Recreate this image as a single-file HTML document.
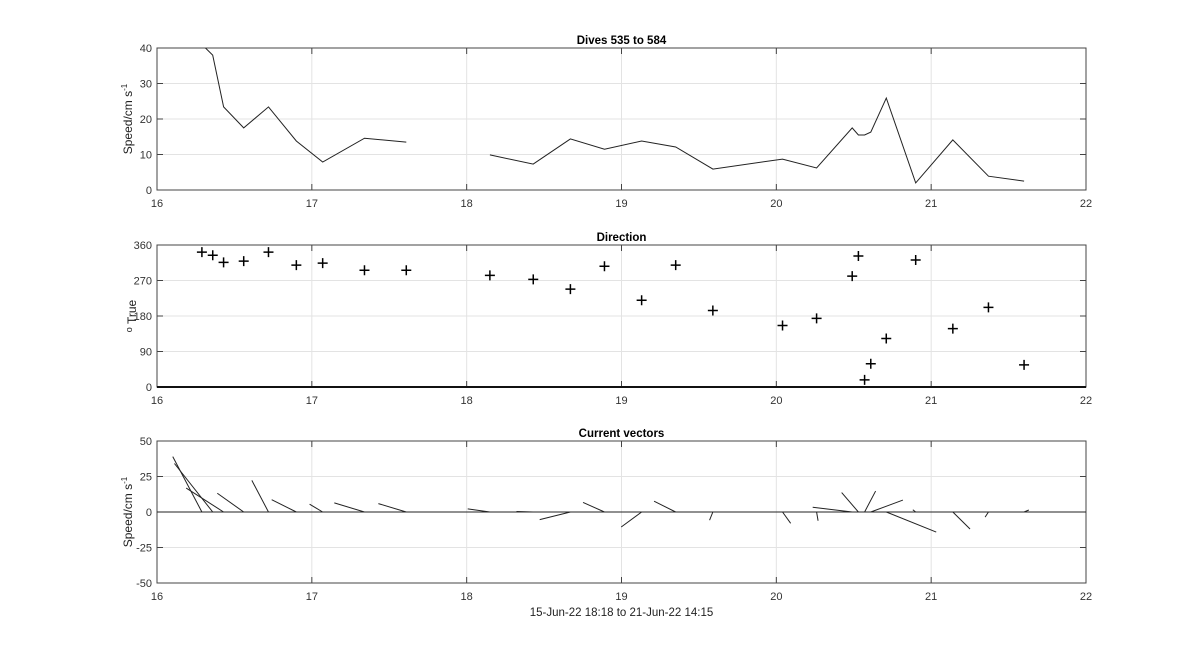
<!DOCTYPE html>
<html><head><meta charset="utf-8"><style>
body{margin:0;background:#fff;width:1200px;height:656px;overflow:hidden}
svg{font-family:"Liberation Sans",Arial,sans-serif}
</style></head><body>
<svg id="c" width="1200" height="656"></svg>
<script>
const times=[16.29,16.36,16.43,16.56,16.72,16.90,17.07,17.34,17.61,18.15,18.43,18.67,18.89,19.13,19.35,19.59,20.04,20.26,20.49,20.53,20.57,20.61,20.71,20.90,21.14,21.37,21.60];
const speeds=[41,38,23.4,17.5,23.4,13.8,7.9,14.6,13.5,9.9,7.3,14.4,11.5,13.8,12.1,5.9,8.7,6.2,17.5,15.5,15.5,16.3,25.9,2.0,14.1,3.9,2.5];
const dirs=[342,334,316,319,342,309,314,296,296,283,273,248,306,220,309,194,156,174,281,332,18,59,123,322,148,202,56];
const gapAfter=8;
const xTicks=[16,17,18,19,20,21,22];
const p1Ticks=[0,10,20,30,40], p2Ticks=[0,90,180,270,360], p3Ticks=[-50,-25,0,25,50];
const NS='http://www.w3.org/2000/svg';
const svg=document.getElementById('c');
function mk(tag,at,parent){const e=document.createElementNS(NS,tag);for(const k in at)e.setAttribute(k,at[k]);(parent||svg).appendChild(e);return e;}
const X0=157,X1=1086;
const sx=t=>X0+(t-16)/6*(X1-X0);
const panels=[
 {top:48,bot:190,min:0,max:40,ticks:p1Ticks,title:'Dives 535 to 584',yl:'Speed/cm s',sup:'-1',name:'speed'},
 {top:245,bot:387,min:0,max:360,ticks:p2Ticks,title:'Direction',pre:'o',yl:' True',name:'direction'},
 {top:441,bot:583,min:-50,max:50,ticks:p3Ticks,title:'Current vectors',yl:'Speed/cm s',sup:'-1',name:'vectors'}];
panels.forEach(p=>{
 p.sy=v=>p.bot-(v-p.min)/(p.max-p.min)*(p.bot-p.top);
 const g=mk('g',{});
 
 
 xTicks.forEach(t=>{
  if(t>16&&t<22){const l=mk('line',{x1:sx(t),x2:sx(t),y1:p.top,y2:p.bot,stroke:'#e3e3e3'},g);}
  mk('line',{x1:sx(t),x2:sx(t),y1:p.bot,y2:p.bot-6,stroke:'#444'},g);
  mk('line',{x1:sx(t),x2:sx(t),y1:p.top,y2:p.top+6,stroke:'#444'},g);
  const tx=mk('text',{x:sx(t),y:p.bot+17,'font-size':11,'text-anchor':'middle',fill:'#333'},g);tx.textContent=t;
  
 });
 p.ticks.forEach(v=>{
  const y=p.sy(v);
  if(v>p.min&&v<p.max){const l=mk('line',{x1:X0,x2:X1,y1:y,y2:y,stroke:'#e3e3e3'},g);}
  mk('line',{x1:X0,x2:X0+6,y1:y,y2:y,stroke:'#444'},g);
  mk('line',{x1:X1,x2:X1-6,y1:y,y2:y,stroke:'#444'},g);
  const tx=mk('text',{x:X0-5,y:y+4,'font-size':11,'text-anchor':'end',fill:'#333'},g);tx.textContent=v;
  
 });
 const r=mk('rect',{x:X0,y:p.top,width:X1-X0,height:p.bot-p.top,fill:'none',stroke:'#444'},g);
 
 const ti=mk('text',{x:(X0+X1)/2,y:p.top-4,'font-size':11.5,'font-weight':'bold','text-anchor':'middle'},g);ti.textContent=p.title;
 
 const cy=(p.top+p.bot)/2;
 const yl=mk('text',{x:0,y:0,'font-size':12,'text-anchor':'middle',fill:'#222',transform:`translate(${p.name==='direction'?136:132},${cy}) rotate(-90)`},g);
 if(p.pre){const s0=mk('tspan',{'font-size':9,dy:-4},yl);s0.textContent=p.pre;const s1=mk('tspan',{dy:4},yl);s1.textContent=p.yl;}
 else yl.appendChild(document.createTextNode(p.yl));
 if(p.sup){const s=mk('tspan',{'font-size':8,dy:-5},yl);s.textContent=p.sup;}
 
});
const P1=panels[0];
const defs=mk('defs',{});
const cp=mk('clipPath',{id:'cp1'},defs);
mk('rect',{x:X0,y:P1.top,width:X1-X0,height:P1.bot-P1.top},cp);
let d='';
times.forEach((t,i)=>{d+=(i===0||i===gapAfter+1?'M':'L')+sx(t).toFixed(1)+','+P1.sy(speeds[i]).toFixed(1);});
const sl=mk('path',{d:d,fill:'none',stroke:'#222','stroke-width':1,'clip-path':'url(#cp1)'});


const P2=panels[1];
mk('line',{x1:X0,x2:X1,y1:P2.bot,y2:P2.bot,stroke:'#111','stroke-width':2});
times.forEach((t,i)=>{
 const x=sx(t),y=P2.sy(dirs[i]);
 const m=mk('path',{d:`M${x-5},${y}H${x+5}M${x},${y-5}V${y+5}`,stroke:'#000','stroke-width':1.5});
 
 
});
const P3=panels[2];
mk('line',{x1:X0,x2:X1,y1:P3.sy(0),y2:P3.sy(0),stroke:'#222'});
const pxPerUnitX=2.3;
times.forEach((t,i)=>{
 const a=dirs[i]*Math.PI/180,u=speeds[i]*Math.sin(a),v=speeds[i]*Math.cos(a);
 const x=sx(t),y=P3.sy(0);
 const l=mk('line',{x1:x,y1:y,x2:x+u*pxPerUnitX,y2:P3.sy(v),stroke:'#222'});
 
 
});
const xl=mk('text',{x:(X0+X1)/2,y:616,'font-size':11.5,'text-anchor':'middle',fill:'#222'});
xl.textContent='15-Jun-22 18:18 to 21-Jun-22 14:15';


</script>
</body></html>
